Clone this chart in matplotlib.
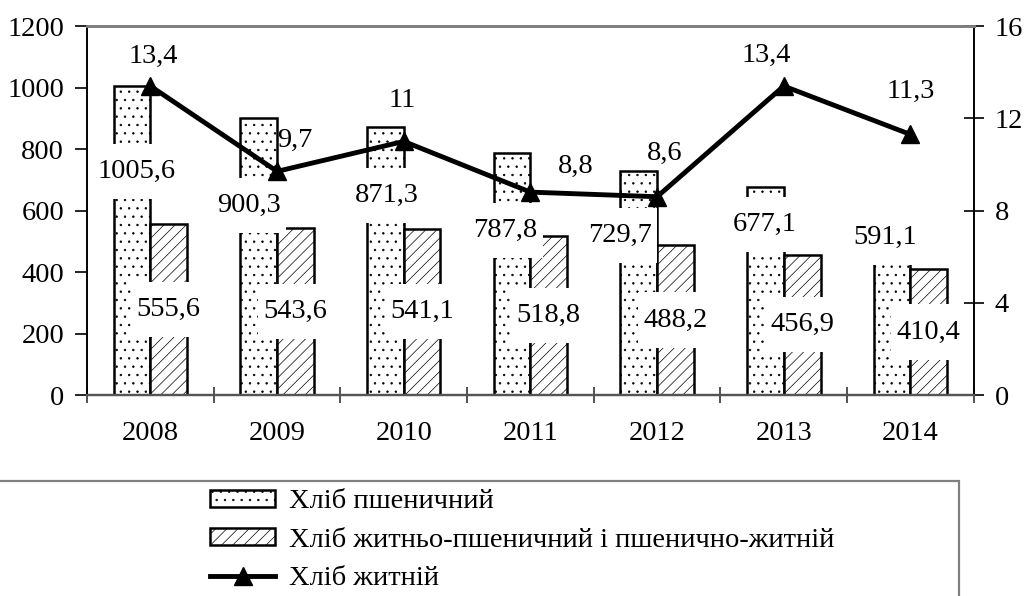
import numpy as np
import matplotlib
matplotlib.use('Agg')
import matplotlib.pyplot as plt
from matplotlib.path import Path
from matplotlib.patches import Rectangle

# Data
years = ['2008', '2009', '2010', '2011', '2012', '2013', '2014']
wheat = [1005.6, 900.3, 871.3, 787.8, 729.7, 677.1, 591.1]
rye_wheat = [555.6, 543.6, 541.1, 518.8, 488.2, 456.9, 410.4]
rye = [13.4, 9.7, 11.0, 8.8, 8.6, 13.4, 11.3]

names = ['Хліб пшеничний',
         'Хліб житньо-пшеничний і пшенично-житній',
         'Хліб житній']

# label offsets in pixels (dx, dy down) - placed by hand in the original
wheat_off = [(5, 86), (-10, 87), (1, 68), (-7, 78), (-19, 65), (-1, 38), (-7, 24)]
rye_line_off = [(3, -30), (18, -31), (-2, -41), (45, -26), (8, -43), (-18, -31), (0, -43)]

plt.rcParams['font.family'] = ['Liberation Serif', 'DejaVu Serif']
plt.rcParams['hatch.color'] = '#444444'
plt.rcParams['hatch.linewidth'] = 0.5
FS = 20.5


def fmt(v):
    return ('%g' % v).replace('.', ',')


def label_box(x0, y0, width, height, mutation_size):
    # white box, wider top/bottom padding like the spreadsheet labels
    px = 0.2 * mutation_size
    py = 0.53 * mutation_size
    x0, y0 = x0 - px, y0 - py
    x1, y1 = x0 + width + 2 * px, y0 + height + 2 * py
    return Path([(x0, y0), (x1, y0), (x1, y1), (x0, y1), (x0, y0)], closed=True)


fig = plt.figure(figsize=(10.24, 5.96), dpi=100)
ax = fig.add_axes([0.085, 0.3372, 0.866, 0.619])
ax2 = ax.twinx()

x = np.arange(len(years))
w = 0.29
b1 = ax.bar(x - w / 2, wheat, w, color='white', edgecolor='black', linewidth=1.8,
            hatch='..', label=names[0])
b2 = ax.bar(x + w / 2, rye_wheat, w, color='white', edgecolor='black', linewidth=1.8,
            hatch='///', label=names[1])

box = dict(boxstyle=label_box, facecolor='white', edgecolor='none')
for i in range(len(years)):
    dx, dy = wheat_off[i]
    ax.annotate(fmt(wheat[i]), (x[i] - w / 2, wheat[i]), xytext=(dx * 0.72, -dy * 0.72),
                textcoords='offset points', ha='center', va='center', fontsize=FS, bbox=box)
    ax.annotate(fmt(rye_wheat[i]), (x[i] + w / 2, rye_wheat[i] / 2), ha='center', va='center',
                fontsize=FS, bbox=box)

ax2.plot(x, rye, color='black', linewidth=3.5, marker='^', markersize=12.5, label=names[2])
for i in range(len(years)):
    dx, dy = rye_line_off[i]
    ax2.annotate(fmt(rye[i]), (x[i], rye[i]), xytext=(dx * 0.72, -dy * 0.72),
                 textcoords='offset points', ha='center', va='center', fontsize=FS)

ax.set_xlim(-0.5, len(years) - 0.5)
ax.set_ylim(0, 1200)
ax.set_yticks(np.arange(0, 1201, 200))
ax2.set_ylim(0, 16)
ax2.set_yticks([0, 4, 8, 12, 16])

ax.set_xticks(np.arange(-0.5, len(years), 1))
ax.set_xticklabels([])
ax.set_xticks(x, minor=True)
ax.set_xticklabels(years, minor=True)
ax.tick_params(axis='x', which='major', direction='inout', length=12, width=1.2, color='#333333')
ax.tick_params(axis='x', which='minor', length=0, pad=19, labelsize=FS)
ax.tick_params(axis='y', direction='out', length=9, width=1.2, pad=7.5, labelsize=FS)
ax2.tick_params(axis='y', direction='inout', length=14, width=1.2, pad=8, labelsize=FS)

for a in (ax, ax2):
    a.spines['top'].set_color('#808080')
    a.spines['top'].set_linewidth(2)
    a.spines['bottom'].set_color('#555555')
    a.spines['bottom'].set_linewidth(1.6)
    a.spines['left'].set_color('black')
    a.spines['left'].set_linewidth(1.2)
    a.spines['right'].set_color('black')
    a.spines['right'].set_linewidth(1.2)

# legend frame running off the bottom of the picture
fig.patches.append(Rectangle((-0.01, -0.2), 0.9465, 0.393, transform=fig.transFigure,
                             facecolor='white', edgecolor='#808080', linewidth=1.6))

handles = [b1, b2, ax2.get_lines()[0]]
fig.legend(handles, names, loc='upper left', bbox_to_anchor=(0.205, 0.179),
           frameon=False, fontsize=FS, handlelength=2.3, handleheight=0.56,
           handletextpad=0.49, labelspacing=0.47, borderpad=0, borderaxespad=0)

fig.savefig('out.png', dpi=100)
